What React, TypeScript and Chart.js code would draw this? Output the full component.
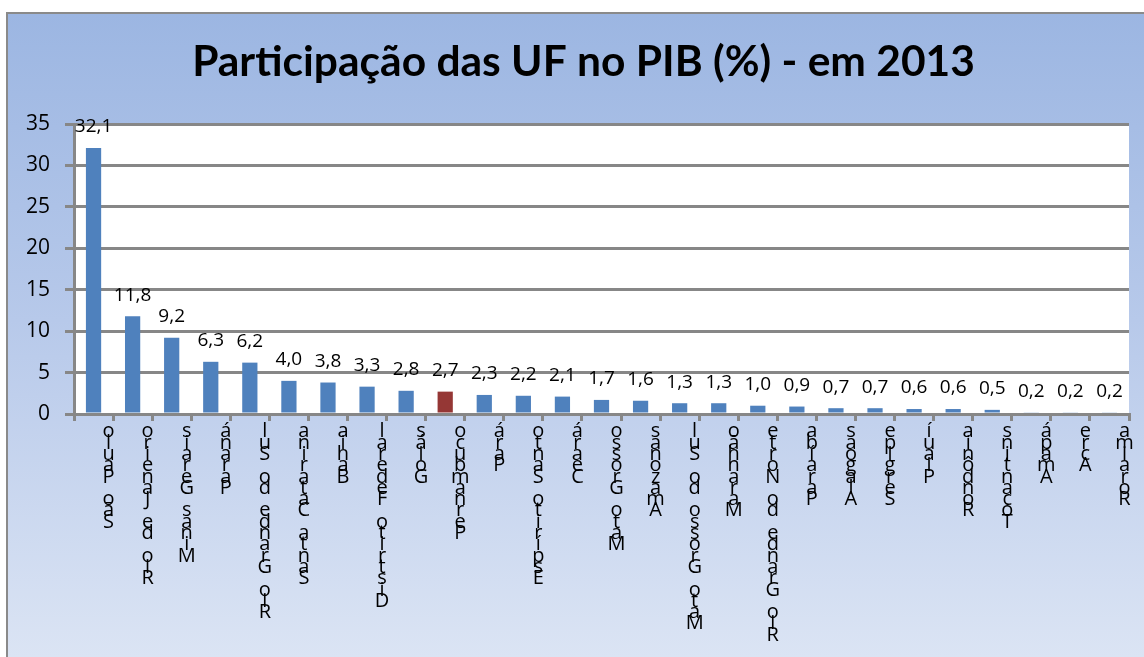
import React, { useEffect, useRef } from "react";
import { Chart, registerables } from "chart.js";

Chart.register(...registerables);

const titleText = "Participação das UF no PIB (%) - em 2013";

const categories = [
  "São Paulo", "Rio de Janeiro", "Minas Gerais", "Paraná", "Rio Grande do Sul",
  "Santa Catarina", "Bahia", "Distrito Federal", "Goiás", "Pernambuco", "Pará",
  "Espírito Santo", "Ceará", "Mato Grosso", "Amazonas", "Mato Grosso do Sul",
  "Maranhão", "Rio Grande do Norte", "Paraíba", "Alagoas", "Sergipe", "Piauí",
  "Rondônia", "Tocantins", "Amapá", "Acre", "Roraima",
];

const values = [
  32.1, 11.8, 9.2, 6.3, 6.2, 4.0, 3.8, 3.3, 2.8, 2.7, 2.3, 2.2, 2.1, 1.7, 1.6,
  1.3, 1.3, 1.0, 0.9, 0.7, 0.7, 0.6, 0.6, 0.5, 0.2, 0.2, 0.2,
];

const highlighted = "Pernambuco";

const yTicks = [0, 5, 10, 15, 20, 25, 30, 35];

const BLUE = "#4f81bd";
const RED = "#953735";
const GRID = "#878787";

const plotBg = {
  id: "plotBg",
  beforeDraw(chart: any) {
    const { ctx, chartArea } = chart;
    ctx.save();
    ctx.fillStyle = "#ffffff";
    ctx.fillRect(chartArea.left, chartArea.top, chartArea.right - chartArea.left, chartArea.bottom - chartArea.top);
    ctx.restore();
  },
};

const valueLabels = {
  id: "valueLabels",
  afterDatasetsDraw(chart: any) {
    const { ctx } = chart;
    const meta = chart.getDatasetMeta(0);
    ctx.save();
    ctx.font = "19px 'Open Sans'";
    ctx.fillStyle = "#000";
    ctx.textAlign = "center";
    ctx.textBaseline = "middle";
    meta.data.forEach((bar: any, i: number) => {
      const txt = values[i].toFixed(1).replace(".", ",");
      ctx.fillText(txt, bar.x, bar.y - 21);
    });
    ctx.restore();
  },
};

export default function App() {
  const ref = useRef<HTMLCanvasElement | null>(null);

  useEffect(() => {
    if (!ref.current) return;
    const chart = new Chart(ref.current, {
      type: "bar",
      data: {
        labels: categories,
        datasets: [
          {
            data: values,
            backgroundColor: categories.map((c) => (c === highlighted ? RED : BLUE)),
            barPercentage: 0.39,
            categoryPercentage: 1,
          },
        ],
      },
      options: {
        responsive: false,
        animation: false,
        layout: { padding: { left: 38, right: 15, top: 0, bottom: 0 } },
        plugins: {
          legend: { display: false },
          tooltip: { enabled: false },
          title: {
            display: true,
            text: titleText,
            color: "#000",
            font: { family: "Lato", size: 42.5, weight: "bold" },
            padding: { top: 37, bottom: 36 },
          },
        },
        scales: {
          x: {
            grid: {
              offset: true,
              drawOnChartArea: false,
              drawTicks: true,
              tickLength: 7,
              color: GRID,
              lineWidth: 3,
            },
            border: { display: true, color: GRID, width: 3 },
            ticks: {
              autoSkip: false,
              maxRotation: 0,
              minRotation: 0,
              labelOffset: 15,
              padding: 5,
              color: "#000",
              font: { family: "Open Sans", size: 20, lineHeight: "11.3px" as any },
              callback: (_v: any, i: number) => categories[i].split("").reverse(),
            },
            afterFit: (s: any) => {
              s.height = 243;
            },
          },
          y: {
            min: 0,
            max: 35,
            afterBuildTicks: (s: any) => {
              s.ticks = yTicks.map((v) => ({ value: v }));
            },
            grid: { color: GRID, lineWidth: 3, tickLength: 9 },
            border: { display: true, color: GRID, width: 3 },
            ticks: {
              color: "#000",
              padding: 15,
              font: { family: "Open Sans", size: 21 },
            },
            afterFit: (s: any) => {
              s.width = 36;
              // let the tick labels extend left of the axis box without clipping
              s._computeLabelArea = () => undefined;
            },
          },
        },
      },
      plugins: [plotBg, valueLabels],
    });
    return () => chart.destroy();
  }, []);

  return (
    <div style={{ position: "absolute", left: 0, top: 0, width: 1144, height: 657, background: "#fff", overflow: "hidden" }}>
      <div
        style={{
          position: "absolute",
          left: 6,
          top: 12,
          width: 1160,
          height: 680,
          borderLeft: "2px solid #8a8a8a",
          borderTop: "2px solid #8a8a8a",
          background: "linear-gradient(to bottom, #9cb6e2 0%, #b7c9ea 45%, #dfe7f5 100%)",
        }}
      />
      <canvas ref={ref} width={1144} height={657} style={{ position: "absolute", left: 0, top: 0 }} />
    </div>
  );
}
